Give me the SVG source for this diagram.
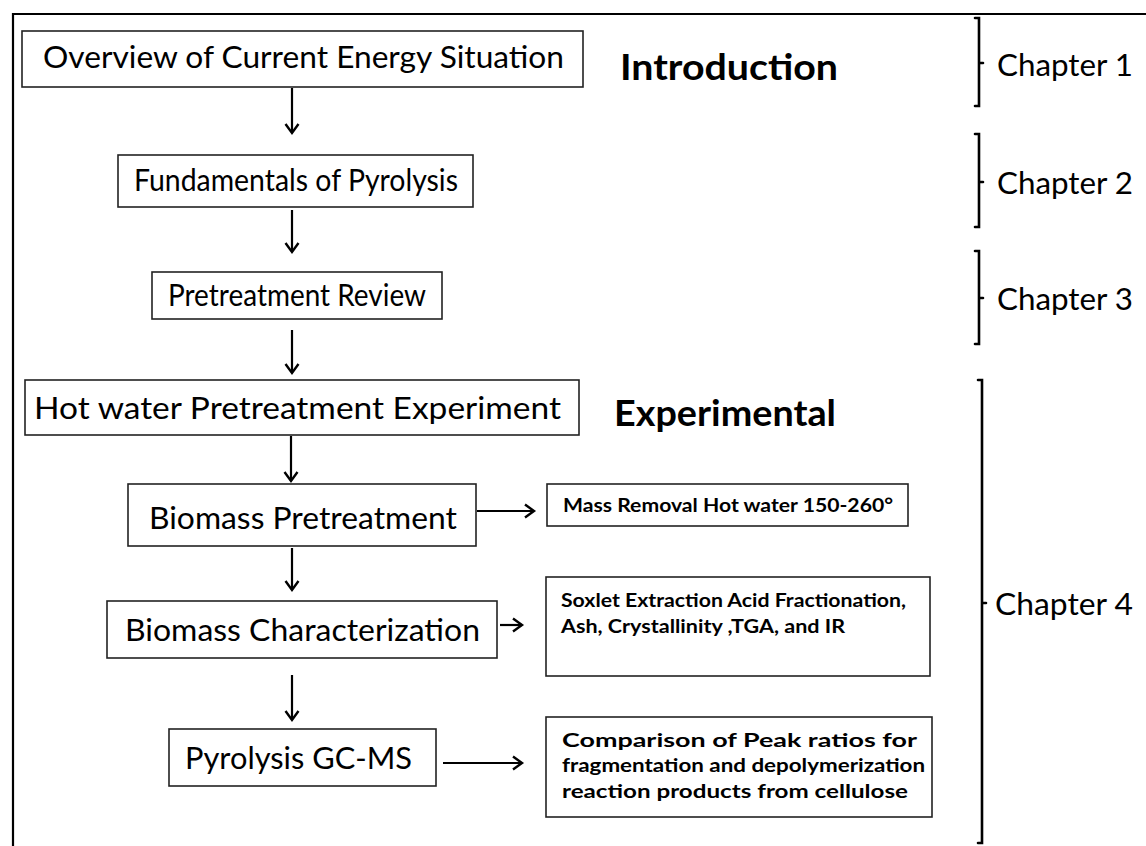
<svg xmlns="http://www.w3.org/2000/svg" width="1146" height="846" viewBox="0 0 1146 846">
  <style>
    .box { fill: #ffffff; stroke: #222222; stroke-width: 1.6; }
    .main { font-family: Lato, "Liberation Sans", sans-serif; font-size: 31px; fill: #000000; }
    .head { font-family: Lato, "Liberation Sans", sans-serif; font-size: 37px; font-weight: bold; fill: #000000; }
    .note { font-family: Lato, "Liberation Sans", sans-serif; font-size: 18.5px; font-weight: bold; fill: #000000; }
    .chap { font-family: Lato, "Liberation Sans", sans-serif; font-size: 30px; fill: #000000; }
    .link { stroke: #000000; stroke-width: 2.2; fill: none; marker-end: url(#head); }
    .brace { stroke: #000000; stroke-width: 2.6; fill: none; stroke-linecap: round; }
  </style>
  <defs>
    <marker id="head" markerUnits="userSpaceOnUse" markerWidth="14" markerHeight="16" refX="11" refY="8" orient="auto">
      <path d="M2,1.5 L11,8 L2,14.5" fill="none" stroke="#000000" stroke-width="2.4"/>
    </marker>
  </defs>

  <rect width="1146" height="846" fill="#ffffff"/>

  <!-- outer frame: top and left edges only -->
  <path d="M13,846 V14 H1146" fill="none" stroke="#000000" stroke-width="2.2"/>

  <!-- section headings -->
  <text class="head" x="620" y="80" textLength="218" lengthAdjust="spacingAndGlyphs">Introduction</text>
  <text class="head" x="614" y="426" textLength="222" lengthAdjust="spacingAndGlyphs">Experimental</text>

  <!-- flow nodes -->
  <g id="n-overview">
    <rect class="box" x="22" y="31" width="561" height="56"/>
    <text class="main" x="43" y="68" textLength="521" lengthAdjust="spacingAndGlyphs">Overview of Current Energy Situation</text>
  </g>
  <g id="n-fundamentals">
    <rect class="box" x="118" y="155" width="355" height="52"/>
    <text class="main" x="134" y="191" textLength="324" lengthAdjust="spacingAndGlyphs">Fundamentals of Pyrolysis</text>
  </g>
  <g id="n-review">
    <rect class="box" x="152" y="272" width="290" height="47"/>
    <text class="main" x="168" y="306" textLength="258" lengthAdjust="spacingAndGlyphs">Pretreatment Review</text>
  </g>
  <g id="n-hotwater">
    <rect class="box" x="25" y="380" width="554" height="55"/>
    <text class="main" x="34" y="419" textLength="527" lengthAdjust="spacingAndGlyphs">Hot water Pretreatment  Experiment</text>
  </g>
  <g id="n-biomass-pre">
    <rect class="box" x="128" y="484" width="348" height="62"/>
    <text class="main" x="149" y="529" textLength="308" lengthAdjust="spacingAndGlyphs">Biomass Pretreatment</text>
  </g>
  <g id="n-mass-removal">
    <rect class="box" x="547" y="484" width="361" height="42"/>
    <text class="note" x="563" y="512" textLength="330" lengthAdjust="spacingAndGlyphs">Mass Removal Hot water 150-260°</text>
  </g>
  <g id="n-biomass-char">
    <rect class="box" x="107" y="601" width="390" height="57"/>
    <text class="main" x="125" y="641" textLength="355" lengthAdjust="spacingAndGlyphs">Biomass Characterization</text>
  </g>
  <g id="n-soxlet">
    <rect class="box" x="546" y="577" width="384" height="99"/>
    <text class="note" x="561" y="607" textLength="345" lengthAdjust="spacingAndGlyphs">Soxlet Extraction Acid  Fractionation,</text>
    <text class="note" x="561" y="633" textLength="284" lengthAdjust="spacingAndGlyphs">Ash,  Crystallinity ,TGA,  and IR</text>
  </g>
  <g id="n-pygcms">
    <rect class="box" x="169" y="729" width="267" height="57"/>
    <text class="main" x="185" y="769" textLength="227" lengthAdjust="spacingAndGlyphs">Pyrolysis GC-MS</text>
  </g>
  <g id="n-comparison">
    <rect class="box" x="546" y="717" width="386" height="100"/>
    <text class="note" x="562" y="747" textLength="355" lengthAdjust="spacingAndGlyphs">Comparison of Peak ratios for</text>
    <text class="note" x="562" y="772" textLength="363" lengthAdjust="spacingAndGlyphs">fragmentation and depolymerization</text>
    <text class="note" x="562" y="798" textLength="346" lengthAdjust="spacingAndGlyphs">reaction products from cellulose</text>
  </g>

  <!-- connectors -->
  <g id="connectors">
    <line class="link" x1="292" y1="88" x2="292" y2="133"/>
    <line class="link" x1="292" y1="210" x2="292" y2="252"/>
    <line class="link" x1="292" y1="330" x2="292" y2="373"/>
    <line class="link" x1="291" y1="436" x2="291" y2="481"/>
    <line class="link" x1="477" y1="511" x2="534" y2="511"/>
    <line class="link" x1="292" y1="548" x2="292" y2="590"/>
    <line class="link" x1="500" y1="625" x2="522" y2="625"/>
    <line class="link" x1="292" y1="675" x2="292" y2="720"/>
    <line class="link" x1="443" y1="763" x2="522" y2="763"/>
  </g>

  <!-- chapter brackets -->
  <g id="chapter-1">
    <path class="brace" d="M975,18 H979 V106 H975 M979,63 H983"/>
    <text class="chap" x="997" y="76" textLength="136" lengthAdjust="spacingAndGlyphs">Chapter 1</text>
  </g>
  <g id="chapter-2">
    <path class="brace" d="M975,134 H979 V227 H975 M979,182 H983"/>
    <text class="chap" x="997" y="194" textLength="136" lengthAdjust="spacingAndGlyphs">Chapter 2</text>
  </g>
  <g id="chapter-3">
    <path class="brace" d="M975,251 H979 V344 H975 M979,298 H983"/>
    <text class="chap" x="997" y="310" textLength="136" lengthAdjust="spacingAndGlyphs">Chapter 3</text>
  </g>
  <g id="chapter-4">
    <path class="brace" d="M978,380 H982 V843 H978 M982,603 H986"/>
    <text class="chap" x="995" y="615" textLength="138" lengthAdjust="spacingAndGlyphs">Chapter 4</text>
  </g>
</svg>
